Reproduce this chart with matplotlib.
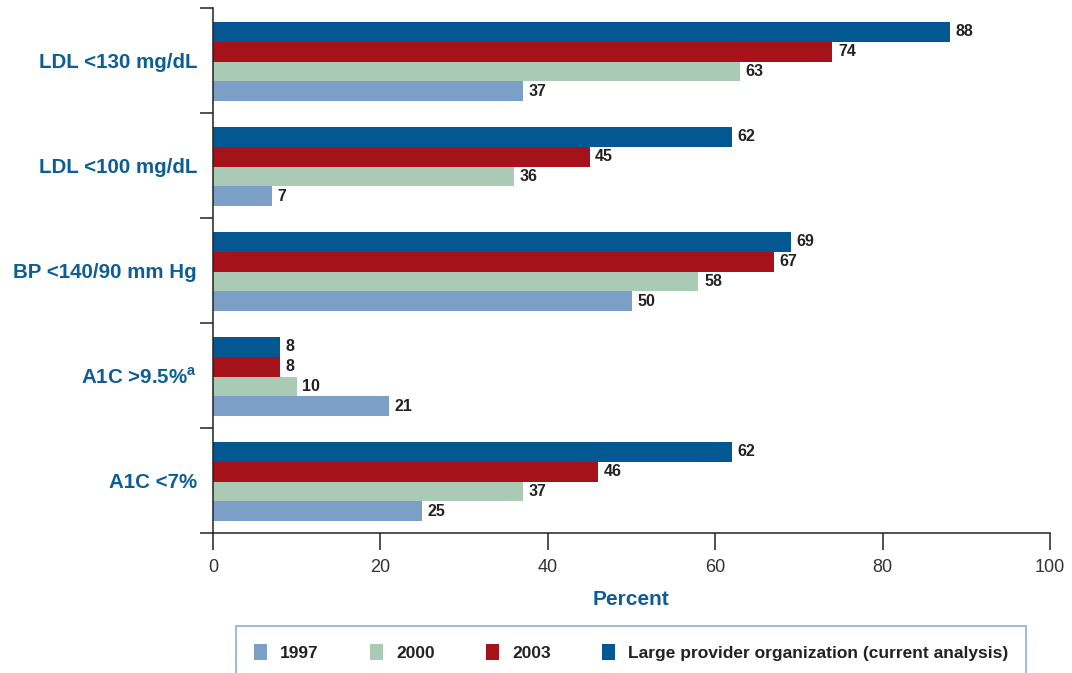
import matplotlib
matplotlib.use("Agg")
import matplotlib.pyplot as plt
import numpy as np
from matplotlib.patches import Patch

# categories from bottom to top
categories = ["A1C <7%", r"A1C >9.5%$^{\mathbf{a}}$", "BP <140/90 mm Hg",
              "LDL <100 mg/dL", "LDL <130 mg/dL"]
series = ["1997", "2000", "2003", "Large provider organization (current analysis)"]
v1997 = [25, 21, 50, 7, 37]
v2000 = [37, 10, 58, 36, 63]
v2003 = [46, 8, 67, 45, 74]
vlarge = [62, 8, 69, 62, 88]
colors = ["#7b9fc6", "#abcab6", "#a5121a", "#035891"]
xticks = [0, 20, 40, 60, 80, 100]

BLUE = "#0e5e96"
DARK = "#222222"

plt.rcParams["font.family"] = ["Liberation Sans", "DejaVu Sans"]
plt.rcParams["mathtext.fontset"] = "custom"
plt.rcParams["mathtext.bf"] = "Liberation Sans:bold"

fig = plt.figure(figsize=(10.72, 6.73), dpi=100)
ax = fig.add_axes([213 / 1072, 1 - 533 / 673, (1050 - 213) / 1072, (533 - 8) / 673])

y = np.arange(len(categories))
h = 0.188
offsets = [-1.5, -0.5, 0.5, 1.5]
for vals, col, off, name in zip([v1997, v2000, v2003, vlarge], colors, offsets, series):
    bars = ax.barh(y + off * h - 0.01, vals, height=h, color=col, label=name)
    ax.bar_label(bars, padding=4, fontsize=11.5, fontweight="bold", color=DARK)

ax.set_xlim(0, 100)
ax.set_ylim(-0.5, len(categories) - 0.5)
ax.set_xticks(xticks)
ax.set_xticklabels([str(t) for t in xticks], fontsize=13, color="#333333")
ax.tick_params(axis="x", length=12, width=1.1, color=DARK, pad=7)

ax.set_yticks(y)
ax.set_yticklabels(categories, fontsize=14.8, fontweight="bold", color=BLUE)
ax.tick_params(axis="y", which="major", length=0, pad=11.5)
ax.set_yticks(np.arange(-0.5, len(categories)), minor=True)
ax.tick_params(axis="y", which="minor", length=9.5, width=1.1, color=DARK)

for s in ["top", "right"]:
    ax.spines[s].set_visible(False)
for s in ["left", "bottom"]:
    ax.spines[s].set_color(DARK)
    ax.spines[s].set_linewidth(1.1)

ax.set_xlabel("Percent", fontsize=15, fontweight="bold", color=BLUE, labelpad=9.5)

handles = [Patch(facecolor=c, label=n) for c, n in zip(colors, series)]
leg = fig.legend(handles=handles, loc="upper left", bbox_to_anchor=(236 / 1072, 1 - 626 / 673),
                 ncol=4, frameon=True, fancybox=False, edgecolor="#6f9cc4",
                 handlelength=0.75, handleheight=1.0, handletextpad=0.75, columnspacing=2.95,
                 borderpad=1.05, borderaxespad=0,
                 prop={"weight": "bold", "size": 12.5})
for t in leg.get_texts():
    t.set_color(DARK)
leg.get_frame().set_linewidth(1.2)

fig.savefig("out.png", dpi=100)
